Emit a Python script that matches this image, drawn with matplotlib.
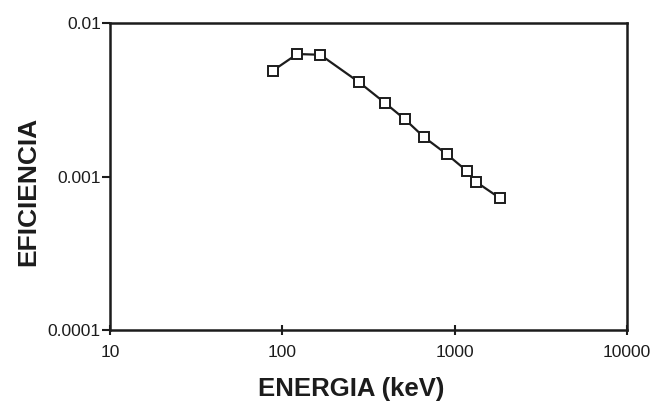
import matplotlib
matplotlib.use("Agg")
import matplotlib.pyplot as plt
from matplotlib.ticker import FixedLocator, FixedFormatter, NullLocator

plt.rcParams['font.family'] = ['Liberation Sans', 'DejaVu Sans']

# mixed gamma source lines (keV) and measured efficiency
energia = [88, 122, 166, 279, 392, 514, 662, 898, 1173, 1333, 1836]
eficiencia = [0.00489, 0.00628, 0.00621, 0.00411, 0.00303, 0.00236,
              0.00181, 0.00140, 0.00109, 0.000921, 0.000721]

x_ticks = [10, 100, 1000, 10000]
x_labels = ['10', '100', '1000', '10000']
y_ticks = [0.0001, 0.001, 0.01]
y_labels = ['0.0001', '0.001', '0.01']

ink = '#1c1c1c'

fig = plt.figure(figsize=(6.56, 4.03), dpi=100)
ax = fig.add_axes([0.1677, 0.1811, 0.7881, 0.7618])

ax.plot(energia, eficiencia, color=ink, lw=1.6,
        marker='s', ms=6.8, mfc='white', mec=ink, mew=1.4)

ax.set_xscale('log')
ax.set_yscale('log')
ax.set_xlim(10, 10000)
ax.set_ylim(0.0001, 0.01)

ax.xaxis.set_major_locator(FixedLocator(x_ticks))
ax.xaxis.set_major_formatter(FixedFormatter(x_labels))
ax.xaxis.set_minor_locator(NullLocator())
ax.yaxis.set_major_locator(FixedLocator(y_ticks))
ax.yaxis.set_major_formatter(FixedFormatter(y_labels))
ax.yaxis.set_minor_locator(NullLocator())

for s in ax.spines.values():
    s.set_linewidth(1.8)
    s.set_color(ink)

ax.tick_params(axis='x', direction='inout', length=7, width=1.5,
               labelsize=12.5, pad=7, colors=ink)
ax.tick_params(axis='y', direction='out', length=5.5, width=1.5,
               labelsize=12.5, pad=1, colors=ink)

fig.text(351 / 656, 1 - 389 / 403, 'ENERGIA (keV)', fontsize=18.5,
         fontweight='bold', color=ink, ha='center', va='center')
fig.text(28.5 / 656, 1 - 191 / 403, 'EFICIENCIA', fontsize=19,
         fontweight='bold', color=ink, ha='center', va='center',
         rotation=90)

fig.savefig('out.png', dpi=100)
